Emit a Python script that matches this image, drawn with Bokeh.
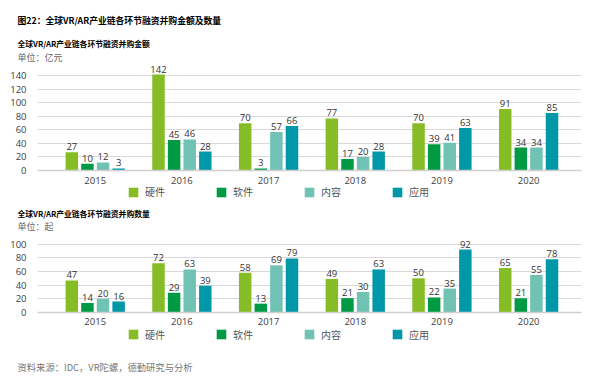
from bokeh.plotting import figure
from bokeh.models import ColumnDataSource, Range1d, FixedTicker, Label, Legend, LegendItem, Span
from bokeh.layouts import column
from bokeh.transform import dodge
from bokeh.core.properties import value
from bokeh.embed import file_html
from bokeh.resources import INLINE

years = ["2015", "2016", "2017", "2018", "2019", "2020"]
series = ["硬件", "软件", "内容", "应用"]
colors = ["#86BC25", "#009A44", "#6FC2B4", "#0097A9"]

amount_hw = [27, 142, 70, 77, 70, 91]
amount_sw = [10, 45, 3, 17, 39, 34]
amount_ct = [12, 46, 57, 20, 41, 34]
amount_ap = [3, 28, 66, 28, 63, 85]
amount_ticks = [0, 20, 40, 60, 80, 100, 120, 140]

count_hw = [47, 72, 58, 49, 50, 65]
count_sw = [14, 29, 13, 21, 22, 21]
count_ct = [20, 63, 69, 30, 35, 55]
count_ap = [16, 39, 79, 63, 92, 78]
count_ticks = [0, 20, 40, 60, 80, 100]

main_title = "图22：全球VR/AR产业链各环节融资并购金额及数量"
sub1 = "全球VR/AR产业链各环节融资并购金额"
unit1 = "单位：亿元"
sub2 = "全球VR/AR产业链各环节融资并购数量"
unit2 = "单位：起"
source_note = "资料来源：IDC，VR陀螺，德勤研究与分析"

CJK = "Noto Sans CJK SC"
NUM = "Open Sans"
W = 600


def text_block(height, texts):
    p = figure(width=W, height=height, output_backend="svg", toolbar_location=None,
               x_range=Range1d(0, W), y_range=Range1d(0, height),
               x_axis_location=None, y_axis_location=None, frame_align=False,
               min_border_left=0, min_border_right=0, min_border_top=0, min_border_bottom=0)
    p.title.visible = False
    p.outline_line_color = None
    p.grid.visible = False
    for (txt, x, y, size, style, color) in texts:
        p.add_layout(Label(x=x, y=y, x_units="screen", y_units="screen",
                           text=txt, text_font=CJK, text_font_size=size,
                           text_font_style=style, text_color=color,
                           text_baseline="middle", text_align="left"))
    return p


def make_chart(height, ybottom, ytop, ticks, data, year_dy, legend_y):
    p = figure(width=W, height=height, output_backend="svg", toolbar_location=None,
               x_range=Range1d(-0.666, 5.61), y_range=Range1d(ybottom, ytop),
               x_axis_location=None, y_axis_location="left",
               min_border_left=37, min_border_right=19,
               min_border_top=0, min_border_bottom=0)
    p.title.visible = False
    p.outline_line_color = None
    p.background_fill_color = "white"
    p.border_fill_color = "white"
    p.xgrid.grid_line_color = None
    p.ygrid.grid_line_color = "#d9d9d9"
    p.ygrid.grid_line_width = 1

    p.yaxis.ticker = FixedTicker(ticks=ticks)
    p.yaxis.axis_line_color = None
    p.yaxis.major_tick_line_color = None
    p.yaxis.minor_tick_line_color = None
    p.yaxis.major_label_standoff = 5
    p.yaxis.major_label_text_font = NUM
    p.yaxis.major_label_text_font_size = "9.5px"
    p.yaxis.major_label_text_color = "#404040"

    p.add_layout(Span(location=0, dimension="width", line_color="#cfcfcf", line_width=1.5))

    src = ColumnDataSource(dict(x=list(range(len(years))), year=years, zero=[0] * len(years),
                                s0=data[0], s1=data[1], s2=data[2], s3=data[3],
                                t0=[str(v) for v in data[0]], t1=[str(v) for v in data[1]],
                                t2=[str(v) for v in data[2]], t3=[str(v) for v in data[3]]))
    # year (category) labels under the baseline
    p.text(x="x", y="zero", text="year", source=src, text_align="center",
           text_baseline="middle", y_offset=year_dy,
           text_font=value(NUM), text_font_size="9.5px", text_color="#404040")

    offsets = [-0.27, -0.09, 0.09, 0.27]
    items = []
    for i in range(4):
        r = p.vbar(x=dodge("x", offsets[i]), top="s%d" % i, width=0.144, source=src,
                   fill_color=colors[i], line_color=None)
        p.text(x=dodge("x", offsets[i]), y="s%d" % i, text="t%d" % i, source=src,
               text_align="center", text_baseline="bottom", y_offset=-2,
               text_font=value(NUM), text_font_size="9.5px", text_color="#333333")
        items.append(LegendItem(label=series[i], renderers=[r]))

    legend = Legend(items=items, orientation="horizontal", location=(90, legend_y),
                    glyph_width=12, glyph_height=12, label_height=12, label_standoff=6,
                    spacing=50, padding=0, margin=0, border_line_alpha=0,
                    background_fill_alpha=0, label_text_font=CJK,
                    label_text_font_size="10px", label_text_color="#555555")
    p.add_layout(legend)
    return p


head = text_block(62, [(main_title, 17, 42, "8.8px", "bold", "#000000"),
                       (sub1, 17, 19, "7.8px", "bold", "#000000"),
                       (unit1, 17, 5.5, "9px", "normal", "#666666")])
chart1 = make_chart(138, -44.4, 159.8, amount_ticks,
                    [amount_hw, amount_sw, amount_ct, amount_ap], 10, 1)
head2 = text_block(32, [(sub2, 17, 19, "7.8px", "bold", "#000000"),
                        (unit2, 17, 6, "9px", "normal", "#666666")])
chart2 = make_chart(116, -52.6, 117.0, count_ticks,
                    [count_hw, count_sw, count_ct, count_ap], 9, 6.5)
foot = text_block(36, [(source_note, 17, 18, "9.3px", "normal", "#777777")])

layout = column(head, chart1, head2, chart2, foot, spacing=0)
open("out.html", "w").write(file_html(layout, INLINE))
